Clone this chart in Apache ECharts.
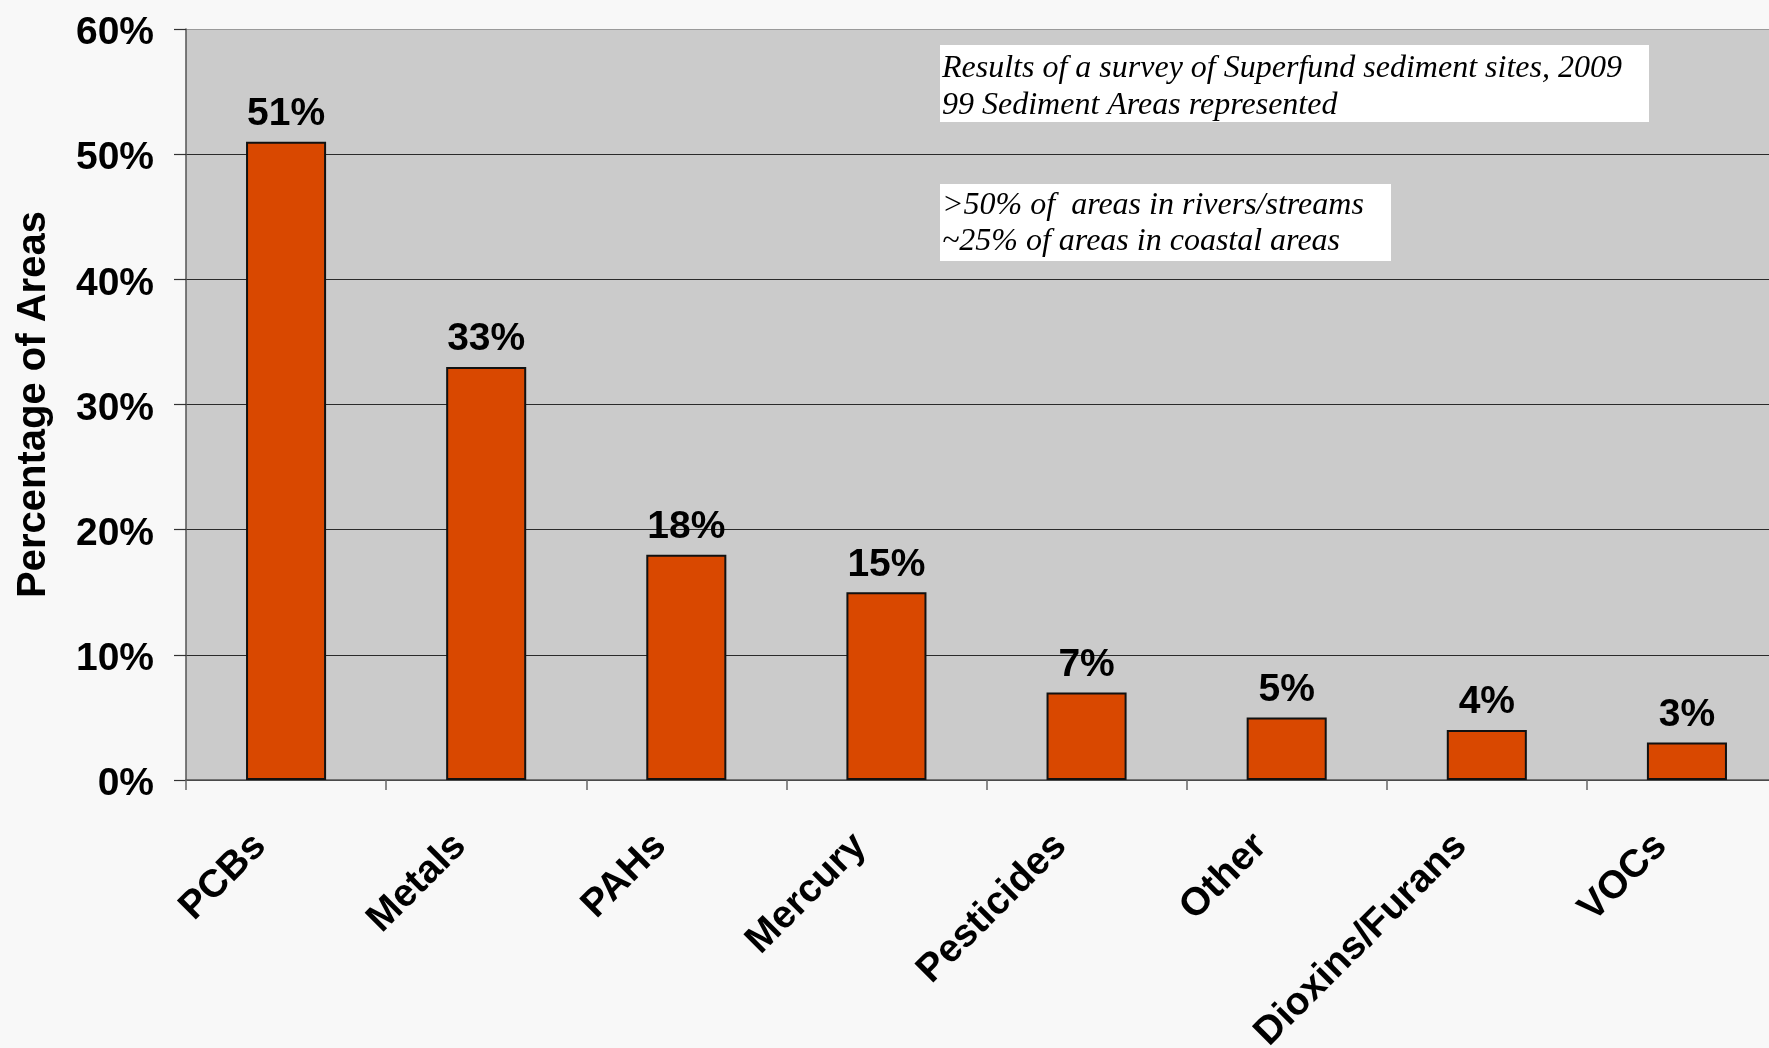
<!DOCTYPE html>
<html>
<head>
<meta charset="utf-8">
<style>
  html, body { margin: 0; padding: 0; background: #f8f8f8; }
  #chart { width: 1769px; height: 1048px; }
</style>
<script src="https://cdn.jsdelivr.net/npm/echarts@6/dist/echarts.min.js"></script>
</head>
<body>
<div id="chart"></div>
<script>
// Contaminant categories and the share of sediment areas affected (%)
const categories = ['PCBs', 'Metals', 'PAHs', 'Mercury', 'Pesticides', 'Other', 'Dioxins/Furans', 'VOCs'];
const percentages = [51, 33, 18, 15, 7, 5, 4, 3];

// Y axis range (percent)
const yMin = 0;
const yMax = 60;
const yStep = 10;

// Annotation boxes
const surveyNote = ['Results of a survey of Superfund sediment sites, 2009', '99 Sediment Areas represented'];
const locationNote = ['>50% of  areas in rivers/streams', '~25% of areas in coastal areas'];

const boldFont = 'Liberation Sans, Arial, sans-serif';
const noteFont = 'italic 32px "Liberation Serif", "Times New Roman", serif';

const chart = echarts.init(document.getElementById('chart'));

chart.setOption({
  backgroundColor: '#f8f8f8',
  animation: false,
  grid: {
    left: 186,
    top: 29,
    width: 1601,
    height: 751,
    containLabel: false,
    outerBoundsMode: 'none',
    show: true,
    backgroundColor: '#cbcbcb',
    borderWidth: 0
  },
  xAxis: {
    type: 'category',
    data: categories,
    axisLine: { lineStyle: { color: '#555', width: 1.5 } },
    axisTick: { show: true, length: 10, lineStyle: { color: '#666', width: 1.5 } },
    axisLabel: {
      rotate: 45,
      interval: 0,
      margin: 34,
      padding: [0, 37, 0, 0],
      color: '#000',
      fontFamily: boldFont,
      fontWeight: 'bold',
      fontSize: 39
    }
  },
  yAxis: {
    type: 'value',
    min: yMin,
    max: yMax,
    interval: yStep,
    name: 'Percentage of Areas',
    nameLocation: 'middle',
    nameGap: 132,
    nameTextStyle: {
      color: '#000',
      fontFamily: boldFont,
      fontWeight: 'bold',
      fontSize: 40
    },
    axisLine: { show: true, lineStyle: { color: '#555', width: 1.5 } },
    axisTick: { show: true, length: 12, lineStyle: { color: '#333', width: 1.2 } },
    axisLabel: {
      formatter: '{value}%',
      margin: 32,
      verticalAlign: 'top',
      lineHeight: 9,
      color: '#000',
      fontFamily: boldFont,
      fontWeight: 'bold',
      fontSize: 39
    },
    splitLine: {
      show: true,
      lineStyle: { color: ['#2a2a2a', '#2a2a2a', '#2a2a2a', '#2a2a2a', '#2a2a2a', '#2a2a2a', '#9a9a9a'], width: 1.2 }
    }
  },
  series: [{
    type: 'bar',
    data: percentages,
    barWidth: '40%',
    itemStyle: {
      color: '#d94800',
      borderColor: '#111',
      borderWidth: 2
    },
    label: {
      show: true,
      position: 'top',
      distance: 8,
      formatter: '{c}%',
      color: '#000',
      fontFamily: boldFont,
      fontWeight: 'bold',
      fontSize: 39
    }
  }],
  graphic: [
    {
      type: 'rect',
      left: 940, top: 45,
      shape: { width: 709, height: 77 },
      style: { fill: '#ffffff' },
      z: 10
    },
    {
      type: 'text',
      left: 942, top: 50,
      style: { text: surveyNote.join('\n'), font: noteFont, lineHeight: 37, fill: '#000' },
      z: 11
    },
    {
      type: 'rect',
      left: 940, top: 184,
      shape: { width: 451, height: 77 },
      style: { fill: '#ffffff' },
      z: 10
    },
    {
      type: 'text',
      left: 942, top: 188,
      style: { text: locationNote.join('\n'), font: noteFont, lineHeight: 36, fill: '#000' },
      z: 11
    }
  ]
});
</script>
</body>
</html>
